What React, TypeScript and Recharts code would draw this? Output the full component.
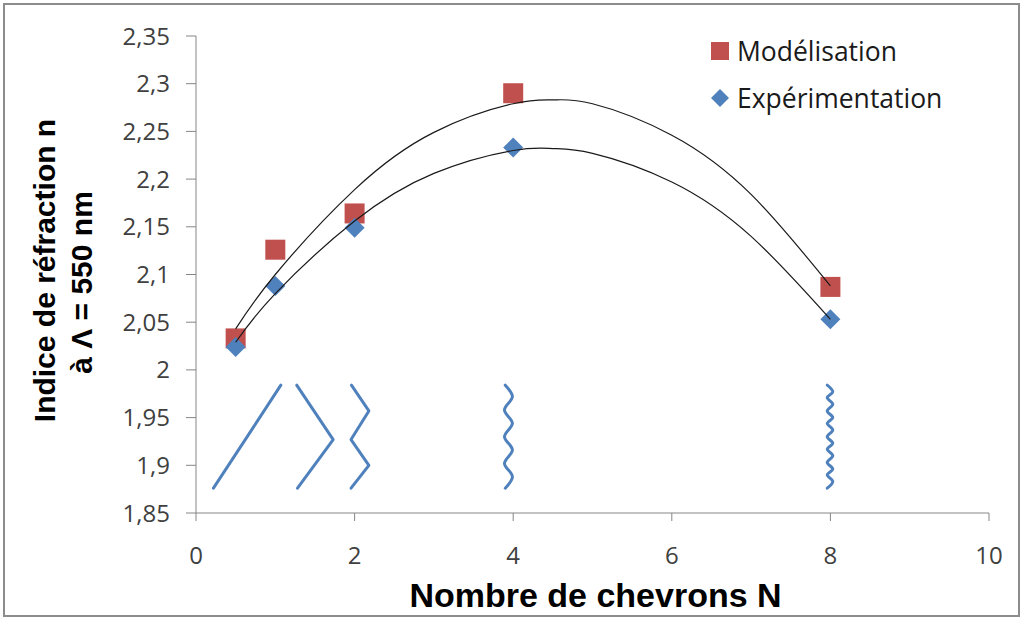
import { ScatterChart, Scatter, XAxis, YAxis, Legend } from 'recharts'

// tick labels
const xTicks = [0, 2, 4, 6, 8, 10]
const yTicks = [1.85, 1.9, 1.95, 2, 2.05, 2.1, 2.15, 2.2, 2.25, 2.3, 2.35]

// measured points
const chevronCounts = [0.5, 1, 2, 4, 8]
const modelValues = [2.033, 2.126, 2.164, 2.29, 2.087]
const experimentValues = [2.024, 2.088, 2.149, 2.233, 2.053]
const seriesNames = ['Modélisation', 'Expérimentation']

// polynomial trend curves
const trendX = [0.5, 1, 2, 3, 4, 4.5, 5, 6, 7, 8]
const modelTrend = [2.043, 2.1, 2.189, 2.249, 2.279, 2.283, 2.279, 2.246, 2.184, 2.088]
const experimentTrend = [2.029, 2.08, 2.156, 2.206, 2.23, 2.232, 2.227, 2.197, 2.14, 2.053]

// chevron sketches in data units [x, y]
const chevron1 = [[0.22, 1.876], [1.07, 1.984]]
const chevron2 = [[1.27, 1.984], [1.73, 1.927], [1.28, 1.876]]
const chevron3 = [[1.96, 1.984], [2.18, 1.957], [1.955, 1.927], [2.18, 1.9], [1.955, 1.876]]
const chevron4 = [
  [3.9, 1.984], [3.99, 1.972], [3.89, 1.958], [3.99, 1.944], [3.89, 1.93],
  [3.99, 1.916], [3.89, 1.902], [3.99, 1.888], [3.9, 1.876],
]
const chevron5 = [
  [7.96, 1.984], [8.03, 1.977], [7.96, 1.971], [8.03, 1.964], [7.96, 1.957],
  [8.03, 1.95], [7.96, 1.944], [8.03, 1.937], [7.96, 1.93], [8.03, 1.923],
  [7.96, 1.917], [8.03, 1.91], [7.96, 1.903], [8.03, 1.896], [7.96, 1.89],
  [8.03, 1.883], [7.96, 1.876],
]

const RED = '#C0504D'
const BLUE = '#4F81BD'
const AXIS = '#868686'
const TICK_TEXT = '#404040'

const toPoints = (xs: number[], ys: number[]) => xs.map((x, i) => ({ x, y: ys[i] }))
const fromPairs = (pairs: number[][]) => pairs.map(([x, y]) => ({ x, y }))

const formatTick = (v: number) => String(Number(v.toFixed(2))).replace('.', ',')

function Square({ cx, cy }: any) {
  if (cx == null || cy == null) return <g />
  return <rect x={cx - 10} y={cy - 10} width={20} height={20} fill={RED} />
}

function Diamond({ cx, cy }: any) {
  if (cx == null || cy == null) return <g />
  const r = 10
  return (
    <polygon
      points={`${cx},${cy - r} ${cx + r},${cy} ${cx},${cy + r} ${cx - r},${cy}`}
      fill={BLUE}
    />
  )
}

const NoDot = () => <g />

function LegendBox() {
  const row: React.CSSProperties = {
    display: 'flex',
    alignItems: 'center',
    height: 47,
    fontFamily: '"Open Sans", sans-serif',
    fontSize: 26.5,
    color: '#1a1a1a',
    whiteSpace: 'nowrap',
  }
  return (
    <div>
      <div style={row}>
        <svg width={20} height={20} style={{ marginRight: 7 }}>
          <rect x={1} y={1} width={18} height={18} fill={RED} />
        </svg>
        {seriesNames[0]}
      </div>
      <div style={row}>
        <svg width={20} height={20} style={{ marginRight: 7 }}>
          <polygon points="10,1 19,10 10,19 1,10" fill={BLUE} />
        </svg>
        {seriesNames[1]}
      </div>
    </div>
  )
}

function YTitle({ viewBox }: any) {
  const cy = viewBox.y + viewBox.height / 2
  const style = {
    fontFamily: '"Liberation Sans", Arial, sans-serif',
    fontWeight: 700,
    fontSize: 30,
    fill: '#000',
  }
  return (
    <g>
      <text transform={`translate(${viewBox.x - 81}, ${cy - 4}) rotate(-90)`} textAnchor="middle" style={style}>
        Indice de réfraction n
      </text>
      <text transform={`translate(${viewBox.x - 44}, ${cy + 8}) rotate(-90)`} textAnchor="middle" style={style}>
        à Λ = 550 nm
      </text>
    </g>
  )
}

function XTitle({ viewBox }: any) {
  return (
    <text
      x={viewBox.x + viewBox.width / 2 + 3}
      y={viewBox.y + 94}
      textAnchor="middle"
      style={{
        fontFamily: '"Liberation Sans", Arial, sans-serif',
        fontWeight: 700,
        fontSize: 34,
        fill: '#000',
      }}
    >
      Nombre de chevrons N
    </text>
  )
}

export default function App() {
  const modelData = toPoints(chevronCounts, modelValues)
  const experimentData = toPoints(chevronCounts, experimentValues)
  const modelTrendData = toPoints(trendX, modelTrend)
  const experimentTrendData = toPoints(trendX, experimentTrend)
  const chevrons = [chevron1, chevron2, chevron3, chevron4, chevron5]

  const tickStyle = { fill: TICK_TEXT, fontFamily: '"Open Sans", sans-serif', fontSize: 24 }

  return (
    <div style={{ position: 'absolute', left: 0, top: 0, width: 1027, height: 621, background: '#fff' }}>
      <div
        style={{
          position: 'absolute',
          left: 3,
          top: 3,
          width: 1017,
          height: 614,
          border: '2px solid #8c8c8c',
          boxSizing: 'border-box',
        }}
      />
      <ScatterChart width={1027} height={621} margin={{ top: 36, right: 38, bottom: 68, left: 136 }}>
        <XAxis
          type="number"
          dataKey="x"
          domain={[0, 10]}
          ticks={xTicks}
          height={40}
          tickSize={8}
          tickMargin={26}
          tick={tickStyle}
          axisLine={{ stroke: AXIS }}
          tickLine={{ stroke: AXIS }}
          label={{ content: XTitle }}
        />
        <YAxis
          type="number"
          dataKey="y"
          domain={[1.85, 2.35]}
          ticks={yTicks}
          width={60}
          tickSize={10}
          tickMargin={16}
          tick={tickStyle}
          tickFormatter={formatTick}
          axisLine={{ stroke: AXIS }}
          tickLine={{ stroke: AXIS }}
          label={{ content: YTitle }}
        />
        {chevrons.map((c, i) => (
          <Scatter
            key={`chevron-${i}`}
            data={fromPairs(c)}
            line={{ stroke: BLUE, strokeWidth: 3, strokeLinecap: 'round', strokeLinejoin: 'round' }}
            lineJointType={i >= 3 ? 'monotoneY' : 'linear'}
            shape={NoDot}
            legendType="none"
            isAnimationActive={false}
          />
        ))}
        <Scatter name={seriesNames[0]} data={modelData} shape={Square} isAnimationActive={false} />
        <Scatter name={seriesNames[1]} data={experimentData} shape={Diamond} isAnimationActive={false} />
        <Scatter
          data={modelTrendData}
          line={{ stroke: '#1a1a1a', strokeWidth: 1.2 }}
          lineJointType="natural"
          shape={NoDot}
          legendType="none"
          isAnimationActive={false}
        />
        <Scatter
          data={experimentTrendData}
          line={{ stroke: '#1a1a1a', strokeWidth: 1.2 }}
          lineJointType="natural"
          shape={NoDot}
          legendType="none"
          isAnimationActive={false}
        />
        <Legend
          layout="horizontal"
          verticalAlign="middle"
          align="center"
          content={() => <LegendBox />}
          wrapperStyle={{ left: 710, top: 27, width: 310, height: 94 }}
        />
      </ScatterChart>
    </div>
  )
}
